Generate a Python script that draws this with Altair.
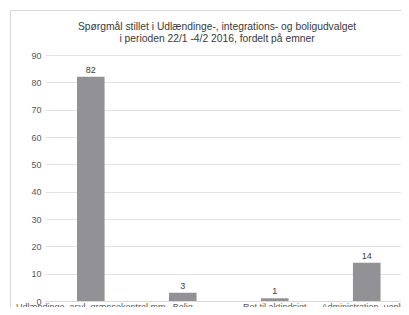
import altair as alt
import pandas as pd

categories = ["Udlændinge, asyl, grænsekontrol mm", "Bolig", "Ret til aktindsigt", "Administration, uoplyst"]
values = [82, 3, 1, 14]
title_lines = ["Spørgmål stillet i Udlændinge-, integrations- og boligudvalget",
               "i perioden 22/1 -4/2 2016, fordelt på emner"]

df = pd.DataFrame({"cat": categories, "val": values})
FONT = "Liberation Sans"

x = alt.X("cat:N", sort=categories, title=None,
          scale=alt.Scale(paddingInner=0.7, paddingOuter=0.285, align=0.61),
          axis=alt.Axis(labelAngle=0, labelFontSize=9, labelColor="#595959", labelFont=FONT,
                        ticks=False, domainColor="#d9d9d9", labelPadding=1, labelLimit=300))
y = alt.Y("val:Q", title=None,
          scale=alt.Scale(domain=[0, 90], nice=False),
          axis=alt.Axis(values=list(range(0, 91, 10)), labelFontSize=9, labelColor="#595959",
                        labelFont=FONT, ticks=False, domain=False, gridColor="#e3e3e3",
                        labelPadding=4))

bars = alt.Chart(df).mark_bar(color="#929296").encode(x=x, y=y)
labels = alt.Chart(df).mark_text(baseline="bottom", dy=-2, fontSize=9, color="#404040",
                                 font=FONT).encode(x=x, y=y, text="val:Q")
frame = alt.Chart(pd.DataFrame({"a": [0]})).mark_rect(fill=None, stroke="#d9d9d9", strokeWidth=1).encode(
    x=alt.value(-34.5), x2=alt.value(600), y=alt.value(-44.5), y2=alt.value(500))

chart = alt.layer(frame, bars, labels).properties(
    width=356, height=246,
    padding={"left": 37, "top": 47, "right": 0, "bottom": 6},
    autosize=alt.AutoSizeParams(type="none"),
    title=alt.TitleParams(title_lines, anchor="middle", frame="group", dx=-6, fontSize=10.3,
                          font=FONT, fontWeight="normal", color="#3a3a3a", offset=-34,
                          lineHeight=11.5),
).configure_view(stroke=None)

chart.save("out.html", embed_options={"renderer": "svg", "actions": False})
